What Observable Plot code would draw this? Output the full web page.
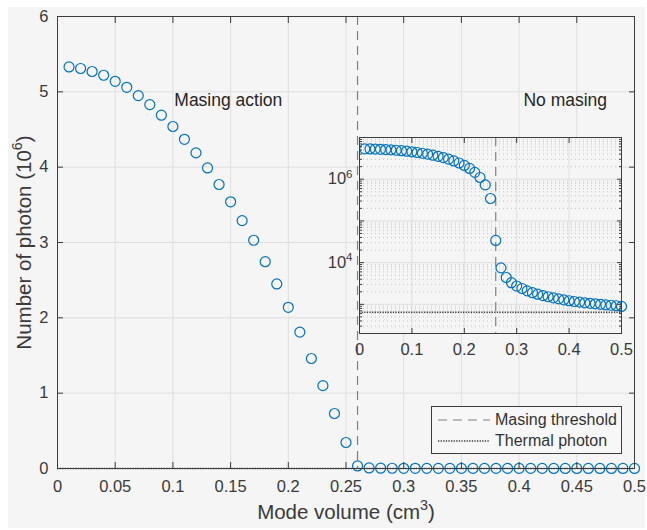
<!DOCTYPE html>
<html>
<head>
<meta charset="utf-8">
<script src="https://cdn.jsdelivr.net/npm/d3@7"></script>
<script src="https://cdn.jsdelivr.net/npm/@observablehq/plot@0.6"></script>
<style>
  html, body { margin: 0; padding: 0; background: #ffffff; }
  #fig { position: relative; width: 647px; height: 530px; background: #ffffff; overflow: hidden;
         font-family: "Liberation Sans", Arial, Helvetica, sans-serif; }
  #bg { position: absolute; left: 8px; top: 7px; width: 637px; height: 521px; background: #f5f5f5; }
  #main, #inset { position: absolute; }
  #main { left: 0; top: 0; }
  #inset { left: 314px; top: 133px; }
  #legend { position: absolute; left: 431px; top: 406px; width: 189px; height: 46px;
            border: 1px solid #3c3c3c; background: #f7f7f7; font-size: 16px; color: #333; }
  .row { position: absolute; left: 5px; height: 20px; display: flex; align-items: center; }
  .row svg { width: 54px; height: 10px; margin-right: 4px; }
</style>
</head>
<body>
<div id="fig">
  <div id="bg"></div>
  <div id="main"></div>
  <div id="inset"></div>
  <div id="legend">
    <div class="row" style="top:3px"><svg><line x1="1" y1="5" x2="53" y2="5" stroke="#808080" stroke-width="1.2" stroke-dasharray="9,6"/></svg><span>Masing threshold</span></div>
    <div class="row" style="top:24px"><svg><line x1="1" y1="5" x2="53" y2="5" stroke="#3a3a3a" stroke-width="1.5" stroke-dasharray="1.3,1.3"/></svg><span>Thermal photon</span></div>
  </div>
</div>
<script>
// ---- data ----
const modeVolume = [0.01,0.02,0.03,0.04,0.05,0.06,0.07,0.08,0.09,0.10,
                    0.11,0.12,0.13,0.14,0.15,0.16,0.17,0.18,0.19,0.20,
                    0.21,0.22,0.23,0.24,0.25,0.26,0.27,0.28,0.29,0.30,
                    0.31,0.32,0.33,0.34,0.35,0.36,0.37,0.38,0.39,0.40,
                    0.41,0.42,0.43,0.44,0.45,0.46,0.47,0.48,0.49,0.50];
const photonNumber = [5.33e6,5.31e6,5.27e6,5.22e6,5.14e6,5.06e6,4.95e6,4.83e6,4.69e6,4.54e6,
                      4.37e6,4.19e6,3.99e6,3.77e6,3.54e6,3.29e6,3.03e6,2.745e6,2.45e6,2.14e6,
                      1.81e6,1.46e6,1.10e6,0.73e6,0.345e6,3.4e4,7500,4400,3300,2750,
                      2400,2100,1900,1750,1620,1520,1430,1350,1280,1220,
                      1170,1130,1090,1060,1030,1000,970,950,925,890];
const thermalPhoton = [650];
const maserThreshold = [0.26];
const mainXTicks = [0,0.05,0.1,0.15,0.2,0.25,0.3,0.35,0.4,0.45,0.5];
const mainYTicks = [0,1,2,3,4,5,6];
const insetXTicks = [0,0.1,0.2,0.3,0.4,0.5];
const insetYMajor = [1e3,1e4,1e5,1e6,1e7];
const insetYLabelled = [1e4,1e6];
const annotationText = ["Masing action","No masing"];
const annotationX = [0.148,0.44];
const annotationY = [4.89,4.89];

// minor log ticks (axis decoration)
const insetYMinor = [];
for (let e = 2; e <= 6; e++) for (let m = 2; m <= 9; m++) { const v = m * 10 ** e; if (v >= 200 && v <= 1e7) insetYMinor.push(v); }

const points = modeVolume.map((x, i) => ({x, n: photonNumber[i]}));
const notes = annotationText.map((t, i) => ({t, x: annotationX[i], y: annotationY[i]}));

const axisColor = "#3c3c3c";
const gridColor = "#dfdfdf";
const textColor = "#3a3a3a";
const blue = "#0072BD";
const font = "Liberation Sans, Arial, Helvetica, sans-serif";
const fmt = d => String(+d.toFixed(2));

const main = Plot.plot({
  width: 647, height: 530,
  marginLeft: 57, marginRight: 13, marginTop: 16, marginBottom: 62,
  style: {background: "transparent", fontFamily: font, fontSize: "16.5px", color: textColor, overflow: "visible"},
  x: {domain: [0, 0.5]},
  y: {domain: [0, 6]},
  marks: [
    Plot.gridX(mainXTicks, {stroke: gridColor, strokeOpacity: 1}),
    Plot.gridY(mainYTicks, {stroke: gridColor, strokeOpacity: 1}),
    Plot.ruleY(thermalPhoton.map(d => d / 1e6), {stroke: "#3a3a3a", strokeWidth: 1.5, strokeDasharray: "1.3,1.3"}),
    Plot.ruleX(maserThreshold, {stroke: "#808080", strokeWidth: 1.2, strokeDasharray: "9,6"}),
    Plot.dot(points, {x: "x", y: d => d.n / 1e6, r: 5, stroke: blue, strokeWidth: 1.2, fill: "none"}),
    Plot.frame({stroke: axisColor}),
    Plot.axisX(mainXTicks, {anchor: "bottom", tickSize: 6, dy: -6, tickFormat: () => "", label: null, stroke: axisColor}),
    Plot.axisX(mainXTicks, {anchor: "top", tickSize: 6, dy: 6, tickFormat: () => "", label: null, stroke: axisColor}),
    Plot.axisY(mainYTicks, {anchor: "left", tickSize: 6, dx: 6, tickFormat: () => "", label: null, stroke: axisColor}),
    Plot.axisY(mainYTicks, {anchor: "right", tickSize: 6, dx: -6, tickFormat: () => "", label: null, stroke: axisColor}),
    Plot.axisX(mainXTicks, {anchor: "bottom", tickSize: 0, tickPadding: 12, tickFormat: fmt, label: null, fill: textColor}),
    Plot.axisY(mainYTicks, {anchor: "left", tickSize: 0, tickPadding: 9, tickFormat: fmt, label: null, fill: textColor}),
    Plot.text(notes, {x: "x", y: "y", text: "t", fontSize: 17.5, fill: "#262626"}),
    Plot.text(["Mode volume (cm^{3})"], {frameAnchor: "bottom", textAnchor: "middle", dy: 50, text: d => d, fontSize: 20.5, fill: textColor}),
    Plot.text(["Number of photon (10^{6})"], {frameAnchor: "left", textAnchor: "middle", dx: -33, rotate: -90, text: d => d, fontSize: 20.5, fill: textColor})
  ]
});

const inset = Plot.plot({
  width: 313, height: 224,
  marginLeft: 45, marginRight: 6, marginTop: 4, marginBottom: 24,
  style: {background: "transparent", fontFamily: font, fontSize: "16.5px", color: textColor, overflow: "visible"},
  x: {domain: [0, 0.5]},
  y: {type: "log", domain: [200, 1e7]},
  marks: [
    Plot.frame({fill: "#f5f5f5"}),
    Plot.gridX(insetXTicks, {stroke: gridColor, strokeOpacity: 1}),
    Plot.gridY(insetYMinor, {stroke: "#c4c4c4", strokeOpacity: 1, strokeDasharray: "1,3"}),
    Plot.gridY(insetYMajor, {stroke: gridColor, strokeOpacity: 1}),
    Plot.ruleY(thermalPhoton, {stroke: "#3a3a3a", strokeWidth: 1.5, strokeDasharray: "1.3,1.3"}),
    Plot.ruleX(maserThreshold, {stroke: "#808080", strokeWidth: 1.2, strokeDasharray: "9,6"}),
    Plot.dot(points, {x: "x", y: "n", r: 5, stroke: blue, strokeWidth: 1.2, fill: "none"}),
    Plot.frame({stroke: axisColor}),
    Plot.axisX(insetXTicks, {anchor: "bottom", tickSize: 5, dy: -5, tickFormat: () => "", label: null, stroke: axisColor}),
    Plot.axisX(insetXTicks, {anchor: "top", tickSize: 5, dy: 5, tickFormat: () => "", label: null, stroke: axisColor}),
    Plot.axisY(insetYMajor, {anchor: "left", tickSize: 5, dx: 5, tickFormat: () => "", label: null, stroke: axisColor}),
    Plot.axisY(insetYMajor, {anchor: "right", tickSize: 5, dx: -5, tickFormat: () => "", label: null, stroke: axisColor}),
    Plot.axisY(insetYMinor, {anchor: "left", tickSize: 3, dx: 3, tickFormat: () => "", label: null, stroke: axisColor}),
    Plot.axisY(insetYMinor, {anchor: "right", tickSize: 3, dx: -3, tickFormat: () => "", label: null, stroke: axisColor}),
    Plot.axisX(insetXTicks, {anchor: "bottom", tickSize: 0, tickPadding: 10, tickFormat: fmt, label: null, fill: textColor}),
    Plot.axisY(insetYLabelled, {anchor: "left", tickSize: 0, tickPadding: 7, tickFormat: d => "10^{" + Math.round(Math.log10(d)) + "}", label: null, fill: textColor})
  ]
});

function supify(root) {
  const ns = "http://www.w3.org/2000/svg";
  root.querySelectorAll("text, tspan").forEach(el => {
    if (el.children.length) return;
    const m = el.textContent.match(/^(.*)\^\{(.+?)\}(.*)$/);
    if (!m) return;
    el.textContent = "";
    el.append(m[1]);
    const s = document.createElementNS(ns, "tspan");
    s.setAttribute("dy", "-0.6em");
    s.setAttribute("font-size", "70%");
    s.textContent = m[2];
    el.append(s);
    if (m[3]) {
      const r = document.createElementNS(ns, "tspan");
      r.setAttribute("dy", "0.42em");
      r.textContent = m[3];
      el.append(r);
    }
  });
}
supify(main);
supify(inset);
document.getElementById("main").append(main);
document.getElementById("inset").append(inset);
</script>
</body>
</html>
